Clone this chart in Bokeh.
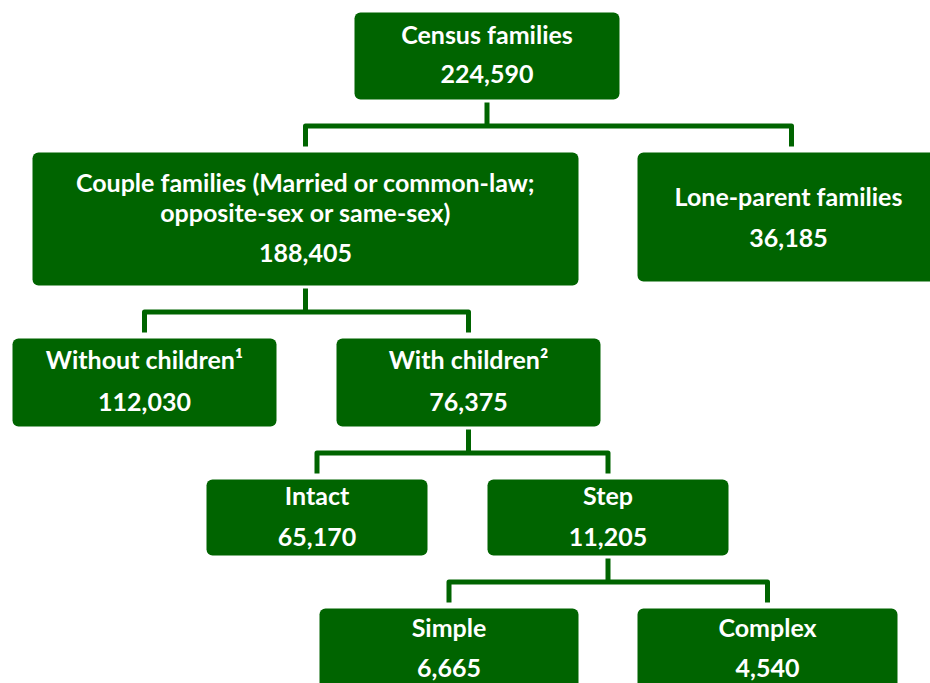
from bokeh.plotting import figure
from bokeh.models import Range1d, ColumnDataSource
from bokeh.core.properties import value
from bokeh.embed import file_html
from bokeh.resources import INLINE

# ---- data ----
labels = [
    "Census families",
    "Couple families (Married or common-law;\nopposite-sex or same-sex)",
    "Lone-parent families",
    "Without children\u00b9",
    "With children\u00b2",
    "Intact",
    "Step",
    "Simple",
    "Complex",
]
counts = [224590, 188405, 36185, 112030, 76375, 65170, 11205, 6665, 4540]
parents = [None, 0, 0, 1, 1, 4, 4, 6, 6]

# ---- layout (reference pixel space) ----
box_left = [354, 32, 637, 12, 336, 206, 487, 319, 637]
box_right = [619, 578, 939, 276, 600, 427, 728, 578, 897]
box_top = [12, 152, 152, 338, 338, 479, 479, 608, 608]
box_bottom = [99, 285, 281, 426, 426, 555, 555, 700, 700]
title_y = [33, 181, 195, 358, 358, 494, 494, 626, 626]
number_y = [73, 252, 237, 401, 401, 536, 536, 667, 667]
LINE_GAP = 30

GREEN = "#006400"
FONT = "Lato"
W, H = 930, 683

p = figure(width=W, height=H, x_range=Range1d(0, W), y_range=Range1d(H, 0),
           output_backend="svg", toolbar_location=None, min_border=0)
p.axis.visible = False
p.grid.visible = False
p.outline_line_color = None

# connectors
xs, ys = [], []
children = {}
for i, par in enumerate(parents):
    if par is not None:
        children.setdefault(par, []).append(i)
for par, kids in children.items():
    px = (box_left[par] + box_right[par]) / 2
    ctop = min(box_top[k] for k in kids)
    hy = (box_bottom[par] + ctop) / 2
    xs.append([px, px]); ys.append([box_bottom[par] + 3, hy])
    k1, k2 = kids[0], kids[-1]
    x1 = (box_left[k1] + box_right[k1]) / 2
    x2 = (box_left[k2] + box_right[k2]) / 2
    if k2 == 2:
        x2 = 791
    xs.append([x1, x1, x2, x2]); ys.append([ctop - 6, hy, hy, ctop - 6])
p.multi_line(xs=xs, ys=ys, line_color=GREEN, line_width=5, line_join="round")

# boxes
p.quad(left=box_left, right=box_right, top=box_top, bottom=box_bottom,
       fill_color=GREEN, line_color=None, border_radius=6)

# texts
tx, ty, tt = [], [], []
for i, lab in enumerate(labels):
    cx = (box_left[i] + box_right[i]) / 2
    if i == 2:
        cx = 788
    for j, line in enumerate(lab.split("\n")):
        tx.append(cx); ty.append(title_y[i] + j * LINE_GAP); tt.append(line)
    tx.append(cx); ty.append(number_y[i]); tt.append(f"{counts[i]:,}")
src = ColumnDataSource(dict(x=tx, y=ty, t=tt))
p.text(x="x", y="y", text="t", source=src, text_color="white", text_align="center",
       text_baseline="middle", text_font=value(FONT), text_font_style="bold",
       text_font_size="25px")

open("out.html", "w").write(file_html(p, INLINE))
